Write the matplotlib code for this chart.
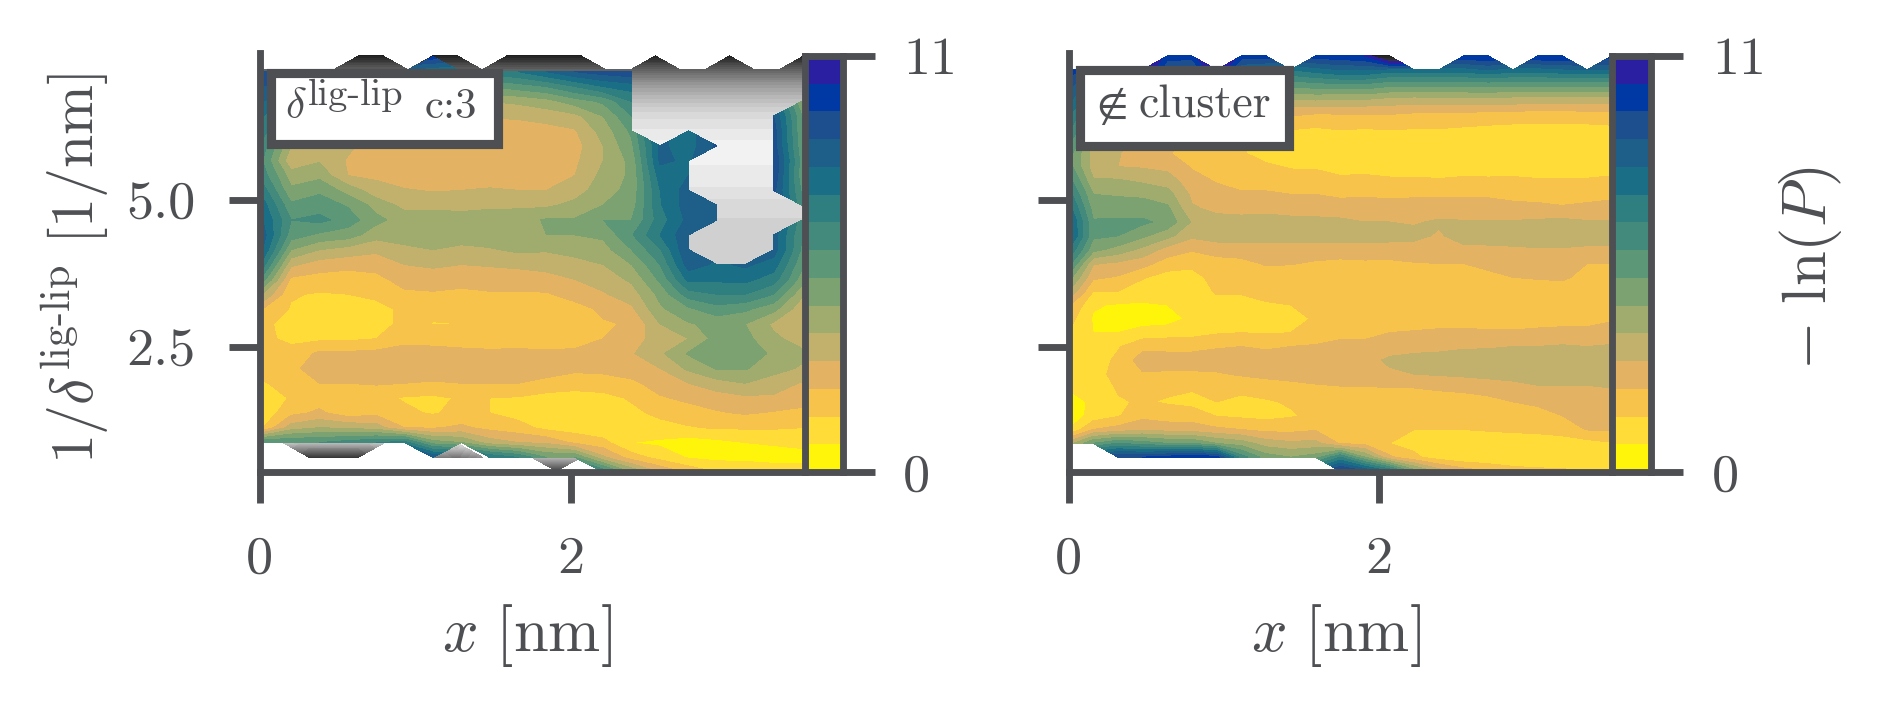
import numpy as np
from matplotlib import pyplot as plt
from matplotlib.colors import ListedColormap
from matplotlib.patches import Rectangle

plt.rcParams['font.family'] = 'cmr10'
plt.rcParams['mathtext.fontset'] = 'cm'
plt.rcParams['axes.unicode_minus'] = False

nan = np.nan
dark = '#4d4f53'
W, H = 1890, 706

# band colours, low to high
band_colors = ['#fff50a', '#ffdc38', '#f8c34a', '#e3b363', '#c2b06d', '#9fac6e', '#7ba270', '#5c9878',
               '#43897c', '#2f7e80', '#1a6e85', '#1e5f8a', '#1d4f8f', '#0039a3', '#2a1fa0']

# left panel, one list per column, top row first, in colour steps (15 steps = 11)
left_cols = [
    [13, 12, 11, 10, 9.5, 8.5, 8, 8.5, 9.5, 10.5, 11, 11.5, 11, 9.5, 7.5, 5, 3, 2.3, 2.2, 2.5, 2.4, 1.9, 1.3, 1.3, 2, 8, nan, nan],
    [12.5, 11, 9.5, 8, 6.5, 5, 4.2, 5.5, 6.2, 7.2, 8, 7.5, 6, 4.2, 2.8, 2.1, 1.9, 1.5, 1.8, 2.3, 2.6, 2.4, 2.1, 2.7, 4.5, 8, nan, nan],
    [12, 10.5, 9, 7.5, 5.5, 4.5, 4.9, 5.7, 6.8, 7.5, 8.3, 6.8, 5, 3.5, 2.6, 1.9, 1.5, 1.3, 1.8, 3.2, 3.8, 3, 2.5, 3.2, 5, 8, nan, nan],
    [11.5, 9.5, 8, 6, 4.8, 4.2, 3.9, 4, 5.6, 6.9, 7.5, 6.5, 4.6, 3.3, 2.5, 2, 1.5, 1.2, 1.8, 3.2, 3.8, 3, 2.5, 2.4, 4.8, 8.5, nan, nan],
    [11, 9, 7, 5, 3.9, 3.5, 3.3, 3.8, 4.4, 5.6, 6.3, 5.4, 4.2, 3.4, 2.7, 2.2, 1.7, 1.4, 2, 3.3, 3.7, 3.1, 2.3, 2.7, 4.5, 9, nan, nan],
    [10.5, 8, 6, 4.7, 3.6, 3.2, 3.1, 3.3, 4.1, 4.7, 5.5, 5.4, 4.8, 4, 3.4, 2.8, 2.2, 2.38, 2.7, 3.4, 3.6, 3, 1.9, 2.2, 3, 9.5, nan, nan],
    [10, 7.5, 5.5, 4.3, 3.4, 3.2, 3.1, 3.2, 3.9, 4.8, 5.4, 5.5, 5, 4.2, 3.4, 2.9, 2.3, 1.95, 2.6, 3.4, 3.6, 2.9, 1.8, 1.9, 2.9, 6.5, 12, nan],
    [9.5, 7, 5, 4.1, 3.3, 3.1, 3.1, 3.4, 4, 4.7, 5.4, 5.4, 4.8, 4, 3.3, 2.8, 2.2, 2, 2.5, 3.3, 3.6, 3, 2.1, 2.3, 3.2, 6, nan, nan],
    [9.5, 7, 5, 4.1, 3.3, 3.1, 3.1, 3.5, 4.1, 4.8, 5.5, 5.6, 4.9, 4.1, 3.4, 2.9, 2.3, 2.1, 2.5, 3.2, 3.5, 3, 2, 2, 2.7, 4.5, 10, nan],
    [10, 7.5, 5.2, 4.2, 3.3, 3.1, 3, 3.4, 4, 4.8, 5.6, 5.8, 5.2, 4.2, 3.5, 2.9, 2.4, 2.2, 2.6, 3.2, 3.6, 3, 1.9, 1.6, 2.4, 4, 9, nan],
    [11, 8, 5.6, 4.4, 3.6, 3.1, 3, 3.2, 4, 4.8, 6.1, 6, 5.1, 4.4, 3.6, 2.9, 2.3, 2.1, 2.4, 3.2, 3.5, 2.7, 1.6, 1.4, 1.7, 3.8, 7, nan],
    [12, 9, 6.5, 4.7, 3.9, 3.6, 3.8, 4, 4.5, 5.3, 6.1, 6, 5.4, 4.6, 4, 3.4, 2.6, 2.1, 2.8, 3.1, 3.2, 2.5, 1.5, 1.3, 1.5, 2.8, 7, nan],
    [12.5, 10, 7.2, 6, 5.4, 5, 5, 5.3, 5.6, 6, 7, 6.2, 5.6, 5, 4.4, 3.9, 3.2, 2.9, 3, 3.5, 3.3, 2.5, 1.7, 1.5, 1.3, 2.3, 4.2, 9],
    [12.8, 10.5, 9, 8, 7.2, 6.8, 6.3, 6.2, 6.3, 6.5, 7, 7.9, 7, 6, 5.2, 4.5, 3.8, 3.1, 3.1, 3.9, 3.5, 2.8, 2.1, 1.8, 1.3, 1, 2.5, 6],
    [nan, nan, nan, nan, nan, 11.2, 11.2, 10.5, 10, 9.9, 9.5, 10, 8.9, 8, 7.2, 6.3, 5.8, 5, 4.9, 4.8, 4, 3.4, 2.9, 2.2, 1.7, 0.8, 1.6, 4],
    [nan, nan, nan, nan, 10.5, 10.5, 10.8, 11, 11.5, 11.5, 11.3, 11.8, 12, 11.5, 10.3, 8.5, 6.8, 5.9, 5, 6.1, 5.2, 4, 3.2, 2.6, 1.9, 0.5, 0.9, 2.8],
    [nan, nan, nan, nan, nan, 12.2, nan, nan, nan, 12, 11.5, nan, nan, 10.8, 10.2, 9, 7.6, 6.3, 6.4, 6.7, 6.1, 4.6, 3.5, 2.9, 2.1, 0.7, 0.7, 2],
    [nan, nan, nan, nan, nan, nan, nan, nan, nan, nan, nan, nan, nan, 11.2, 10.3, 9, 7.2, 6, 6.3, 6.9, 6.1, 5, 3.8, 3.1, 2.1, 1, 0.7, 1.8],
    [nan, nan, nan, 12, 12.5, 12.5, 13, 12.8, 12.3, nan, nan, 11.5, 11.5, 10.5, 9.5, 8, 6.3, 4.8, 5.2, 5.7, 5.3, 4.6, 3.8, 2.9, 2.1, 1.1, 0.6, 1.6],
    [nan, nan, 6, 7, 7, 7.2, 7.5, 7.3, 7.8, 8.2, 8.4, 8, 7.8, 7.2, 6.5, 5.2, 4.3, 4.1, 4.6, 5.2, 4.9, 3.9, 3.5, 2.7, 2, 1.2, 0.7, 1.4],
]
# extra row above the left panel, one blue peak only
left_peak = [nan] * 6 + [13.5] + [nan] * 13

# right panel, same way
right_cols = [
    [nan, 13.5, 12.5, 11.5, 10.5, 9.5, 8.5, 7.5, 7.5, 8.5, 9.5, 10.5, 11.5, 11.5, 10, 8.5, 6.5, 5, 3.2, 2.4, 2, 1.9, 1.2, 1.2, 1.1, 0.5, 0.3, 1, 4.5, nan, nan],
    [nan, 12.5, 10.5, 9, 7.5, 6.3, 5.3, 4.5, 4.5, 5.1, 6, 6.6, 7.1, 7.2, 6.3, 4.1, 3.2, 2, 1.1, 0.9, 1, 1.3, 1.5, 1.5, 1.3, 1.2, 1.4, 3, 7, nan, nan],
    [nan, 11.5, 9.5, 7.8, 6, 5, 4.5, 4.1, 4, 5.1, 5.9, 6.5, 7.2, 7, 5.6, 3.8, 2.9, 2, 0.9, 0.5, 1, 1.9, 2.2, 2.4, 2.1, 1.9, 1.9, 3.4, 8, 13, nan],
    [nan, 15.6, 8.8, 7, 5.5, 4.6, 3.8, 3.3, 3.9, 4.8, 5.8, 6.5, 7.2, 6.2, 4.7, 3.4, 2.1, 1.4, 0.9, 0.5, 1.4, 2.7, 3.5, 2.9, 2.2, 2.1, 2.7, 3.8, 7.5, 13, nan],
    [13.5, 12, 9.5, 7.5, 5.5, 4.4, 3.6, 3.1, 3.7, 4.5, 5.4, 6.2, 6.7, 5.3, 3.6, 2.5, 1.6, 1.3, 1, 0.6, 1.5, 2.8, 3.3, 2.9, 2.2, 1.9, 2.5, 3.6, 7, 13.5, nan],
    [13.5, 11.5, 9, 7, 5, 3.8, 3, 2.4, 2.9, 3.4, 3.8, 4.1, 4.9, 4.2, 3.1, 2.2, 1.7, 1.5, 1.3, 1.2, 1.6, 2.8, 3.3, 2.9, 2.1, 1.7, 2.5, 3.5, 7, 13.8, nan],
    [nan, 15.6, 8.5, 6.5, 4.6, 3.5, 2.7, 2.3, 2.5, 2.9, 3.4, 3.8, 4.3, 4.4, 3.5, 2.5, 2.3, 2.1, 1.7, 1.5, 1.9, 2.9, 3.5, 2.9, 2.2, 2, 1.95, 3.2, 6, 13.5, nan],
    [13.5, 11, 8.5, 6, 4.5, 3.3, 2.5, 2.1, 2.3, 2.7, 3.1, 3.6, 4.4, 4.5, 3.5, 2.7, 2.3, 2.1, 1.7, 1.5, 2, 3, 3.5, 3.1, 2.3, 1.7, 1.8, 3, 5.5, 8.5, nan],
    [13.5, 10.5, 8, 5.5, 3.5, 2.3, 1.7, 1.5, 2.2, 2.7, 3.1, 3.7, 4.4, 4.5, 3.4, 3.1, 2.5, 2.3, 1.9, 1.6, 1.9, 2.9, 3.3, 3.3, 2.4, 1.9, 1.7, 2.7, 4.5, 6.5, nan],
    [nan, 10, 7.5, 5.3, 3.4, 2.2, 1.6, 1.5, 1.9, 2.5, 3, 3.6, 4.3, 4.6, 3.3, 3.05, 2.5, 2.3, 2, 1.7, 2, 3, 3.4, 3.4, 2.6, 2.1, 1.9, 2.7, 4.2, 6, nan],
    [13.5, 10.5, 7.8, 5.4, 3.2, 2.1, 1.5, 1.4, 1.9, 2.4, 3, 3.5, 4.3, 4.6, 3.4, 2.9, 2.5, 2.4, 2.3, 2.1, 2.4, 3.1, 3.5, 3.5, 2.8, 2.3, 2.2, 2.9, 4.3, 6.5, nan],
    [13.7, 11, 8, 5.3, 3.2, 2.2, 1.6, 1.3, 1.5, 2.3, 2.8, 3.5, 4.2, 4.5, 3.4, 2.8, 2.5, 2.4, 2.3, 2.3, 2.7, 3.3, 3.6, 3.6, 2.9, 2.5, 2.4, 2.5, 2.9, 9, 13.5],
    [14, 11, 8, 5.3, 3.2, 2.2, 1.4, 1.3, 1.6, 2.3, 2.9, 3.4, 4, 4.4, 3.6, 2.8, 2.5, 2.4, 2.3, 2.3, 2.8, 3.2, 3.6, 3.6, 2.9, 2.5, 2.4, 2.2, 2.7, 6, 12],
    [18, 10.5, 7.5, 5, 3.2, 2.3, 1.4, 1.2, 1.4, 2.2, 2.8, 3.4, 4, 4.4, 3.5, 2.8, 2.5, 2.4, 2.3, 2.4, 3, 3.5, 4.2, 3.8, 3, 2.5, 2.4, 2.1, 2, 3.2, 10],
    [nan, 10.5, 7.5, 4.9, 3.1, 2.2, 1.4, 1.1, 1.4, 2.2, 2.9, 3.3, 3.9, 4.3, 3.5, 2.95, 2.6, 2.4, 2.3, 2.4, 3.1, 3.7, 4.3, 4, 3, 2.6, 2.4, 2, 1.7, 2.2, 6.5],
    [nan, 10.5, 7.5, 5, 3.1, 2.2, 1.4, 1.1, 1.4, 2.1, 2.9, 3.4, 4.15, 3.85, 3.4, 3, 2.6, 2.4, 2.3, 2.5, 3.2, 3.8, 4.3, 4.1, 3.1, 2.6, 2.4, 2, 1.6, 1.5, 4.5],
    [13.8, 10.5, 7.5, 5, 3.1, 2.1, 1.3, 1.1, 1.5, 2.2, 2.9, 3.3, 4.1, 4.5, 3.7, 3, 2.7, 2.4, 2.3, 2.6, 3.2, 3.9, 4.4, 4.2, 3.2, 2.6, 2.4, 2, 1.4, 1.2, 3.5],
    [14, 11, 7.6, 5, 3, 2, 1.2, 1, 1.4, 2.2, 2.9, 3.3, 4.1, 4.6, 3.7, 3.1, 2.9, 2.5, 2.3, 2.6, 3.1, 3.9, 4.5, 4.3, 3.4, 2.7, 2.5, 2.1, 1.3, 1.1, 3],
    [nan, 10.5, 7.5, 4.9, 3, 1.9, 1.2, 1.1, 1.5, 2.2, 2.8, 3.2, 4.1, 4.6, 3.8, 3.2, 3, 2.6, 2.4, 2.6, 3.1, 4, 4.5, 4.4, 3.6, 3, 2.6, 2.2, 1.3, 1, 2.5],
    [14, 10.5, 7.5, 4.9, 2.9, 1.9, 1.1, 1, 1.4, 2.1, 2.7, 3.2, 4.2, 4.6, 3.9, 3.3, 3.05, 2.7, 2.4, 2.6, 3.2, 4, 4.5, 4.4, 3.9, 3.1, 2.8, 2.3, 1.3, 1, 2.3],
    [14, 10.8, 7.5, 4.8, 2.9, 1.9, 1.1, 1, 1.4, 2.1, 2.6, 3.1, 4.3, 4.6, 3.9, 3.3, 3.1, 2.7, 2.4, 2.6, 3.3, 4.1, 4.5, 4.4, 3.9, 3.1, 3, 2.5, 1.4, 1, 2.2],
    [nan, 11, 7.5, 4.8, 3, 1.9, 1.1, 1, 1.5, 2.1, 2.7, 3.2, 4.1, 4.5, 3.8, 3, 2.8, 2.5, 2.4, 2.6, 3.3, 4, 4.5, 4.4, 3.9, 3.4, 3.3, 3.05, 1.6, 1.1, 2],
    [13.5, 11, 7.5, 4.8, 3, 2, 1.2, 1.1, 1.6, 2.2, 2.8, 3.3, 4.1, 4.5, 3.8, 3, 2.8, 2.5, 2.4, 2.9, 3.4, 4.1, 4.5, 4.5, 4, 3.4, 3.3, 3.1, 1.9, 1.1, 2],
]

# grey layer under the colours, brightness per row, plus the rows that have gaps
gray_profile = [0.12, 0.38, 0.58, 0.72, 0.83, 0.89, 0.93, 0.965, 0.93, 0.92, 0.88, 0.84, 0.83, 0.83, 0.83, 0.83,
                0.82, 0.82, 0.82, 0.82, 0.82, 0.82, 0.82, 0.82, 0.82, 0.82, 0.82, 0.82]
gray_top_cols = [4, 5, 7, 8, 10, 11, 12, 13, 16, 19, 22]
gray_row28 = [nan, .75, .7, .7, .7, .75, nan, nan, .87, nan, .8, .8, .8, .8, .8, .8, .8, .8, .8, .8, .8, .8, .8]
gray_row29 = [nan, nan, .2, .2, .2, nan, nan, .5, .45, .55, nan, .72, .72, .72, nan, nan, nan, nan, nan, nan, nan, nan, nan]
gray_row30 = [nan] * 12 + [.25] + [nan] * 10
right_gray_top_cols = [4, 5, 7, 8, 10, 11, 12, 13, 16, 17, 19, 20, 22]

xticks = [0, 2]
yticks = [2.5, 5.0]
ytick_labels = ['2.5', '5.0']
cbar_ticks = [0, 11]
cbar_tick_labels = ['0', '11']

levels = np.linspace(0, 11, 16)
gray_levels = np.linspace(0, 1, 31)
gray_colors = [str(v) for v in (gray_levels[:-1] + gray_levels[1:]) / 2]


def px_axes(left, top, right, bottom):
    return plt.gcf().add_axes([left / W, 1 - bottom / H, (right - left) / W, (bottom - top) / H])


def gray_field(top_cols):
    g = np.tile(np.array(gray_profile)[:, None], (1, 23))
    g = np.vstack([g, gray_row28, gray_row29, gray_row30])
    g[0] = nan
    g[0, top_cols] = gray_profile[0]
    return g


def style_main(ax):
    ax.set_xlim(0, 3.495)
    ax.set_ylim(0.365, 7.505)
    for side in ['top', 'right']:
        ax.spines[side].set_visible(False)
    for side in ['left', 'bottom']:
        ax.spines[side].set_linewidth(1.65)
        ax.spines[side].set_color(dark)
    ax.set_xticks(xticks)
    ax.set_xticklabels([str(t) for t in xticks])
    ax.set_yticks(yticks)
    ax.tick_params(length=7.4, width=1.65, color=dark, labelcolor=dark, labelsize=13, pad=8)
    ax.set_xlabel(r'$x\ [\mathrm{nm}]$', fontsize=15, color=dark, labelpad=4.6, x=0.493)
    ax.set_axisbelow(False)


def style_cbar(ax):
    ax.pcolormesh([0, 1], levels, np.arange(15)[:, None], cmap=ListedColormap(band_colors), vmin=0, vmax=14)
    ax.set_ylim(0, 11)
    ax.set_xticks([])
    ax.yaxis.tick_right()
    ax.set_yticks(cbar_ticks)
    ax.set_yticklabels(cbar_tick_labels)
    ax.tick_params(length=7.6, width=1.65, color=dark, labelcolor=dark, labelsize=13, pad=7)
    for s in ax.spines.values():
        s.set_linewidth(1.65)
        s.set_color(dark)


def box(left, top, right, bottom):
    fig.add_artist(Rectangle((left / W, 1 - bottom / H), (right - left) / W, (bottom - top) / H,
                             transform=fig.transFigure, facecolor='white', edgecolor=dark, linewidth=2.2, zorder=5))


def label(x, y, text, size):
    fig.text(x / W, 1 - y / H, text, color=dark, fontsize=size, va='baseline', ha='left', zorder=6)


fig = plt.figure(figsize=(W / 300, H / 300), dpi=300)

# left panel
ax1 = px_axes(259.5, 53, 803, 472)
x_gray = np.linspace(0, 3.5, 23)
y_gray = np.linspace(7.454, 0.382, 31)
ax1.contourf(x_gray, y_gray, np.ma.masked_invalid(gray_field(gray_top_cols)), levels=gray_levels, colors=gray_colors)
left_z = np.vstack([left_peak, np.array(left_cols).T]) * 11 / 15
x_left = np.linspace(0.02, 3.489, 20)
y_left = np.linspace(7.44, 0.361, 29)
ax1.contourf(x_left, y_left, np.ma.masked_invalid(left_z), levels=levels, colors=band_colors)
style_main(ax1)
ax1.set_yticklabels(ytick_labels)
fig.text(75 / W, 1 - 268 / H, r'$1/\delta^{\mathrm{lig\text{-}lip}}\ [1/\mathrm{nm}]$', rotation=90,
         color=dark, fontsize=14.4, ha='center', va='center')
cax1 = px_axes(804.5, 56, 842.5, 472)
style_cbar(cax1)

# right panel
ax2 = px_axes(1068.5, 53, 1611, 472)
g2 = gray_field(right_gray_top_cols)
g2[3:28] = nan
ax2.contourf(x_gray, y_gray, np.ma.masked_invalid(g2), levels=gray_levels, colors=gray_colors)
right_z = np.array(right_cols).T * 11 / 15
ax2.contourf(x_gray, y_gray, np.ma.masked_invalid(right_z), levels=levels, colors=band_colors)
style_main(ax2)
ax2.set_yticklabels([])
cax2 = px_axes(1612, 56, 1651, 472)
style_cbar(cax2)
fig.text(1811 / W, 1 - 268 / H, r'$-\ \ln(P)$', rotation=90, color=dark, fontsize=15, ha='center', va='center')

box(270.5, 73.5, 497.5, 144)
label(285, 118, r'$\delta$', 10.5)
label(308, 105, 'lig-lip', 9.2)
label(425, 118, 'c:3', 10.3)
box(1079.5, 70.5, 1288.5, 145.5)
label(1088, 118, r'$\notin$', 11)
label(1139, 118, 'cluster', 11)

fig.savefig('out.png', dpi=300)
